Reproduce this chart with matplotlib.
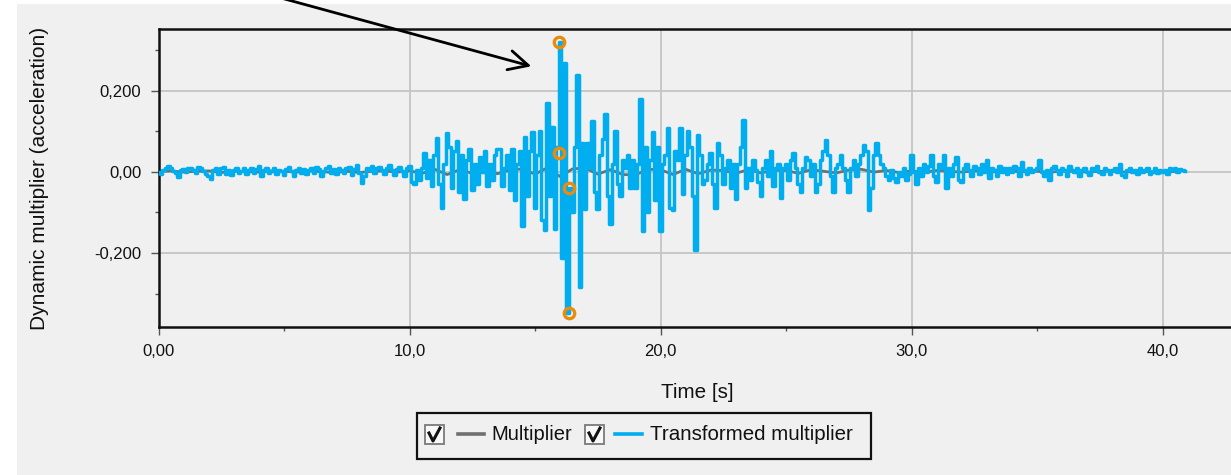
import matplotlib
matplotlib.use("Agg")
import matplotlib.pyplot as plt
import numpy as np
from matplotlib.patches import Rectangle, FancyArrowPatch
from matplotlib.lines import Line2D
from matplotlib.ticker import FixedLocator, FixedFormatter

plt.rcParams["font.family"] = ["Liberation Sans", "DejaVu Sans"]

# ---------------- data ----------------
time_step = 0.1  # s, sampling of the transformed multiplier
transformed = [
    0.000, -0.006, 0.004, 0.008, 0.015, 0.010, 0.002, -0.004, -0.012, 0.003,   # 0 s
    0.006, 0.000, 0.008, 0.010, 0.005, -0.004, 0.012, 0.008, 0.002, -0.006,    # 1
    -0.010, -0.018, 0.004, 0.010, -0.006, 0.008, 0.012, -0.005, 0.003, -0.008, # 2
    0.004, 0.010, -0.004, 0.002, 0.008, -0.006, 0.004, 0.010, -0.002, 0.006,   # 3
    0.014, -0.010, 0.004, 0.008, -0.004, 0.002, 0.010, -0.006, 0.004, 0.002,   # 4
    -0.008, 0.006, 0.012, 0.002, -0.010, 0.004, 0.008, -0.002, 0.006, -0.006,  # 5
    0.004, 0.010, -0.004, 0.012, 0.006, -0.010, 0.002, 0.008, 0.014, -0.004,   # 6
    0.006, -0.006, 0.010, 0.004, -0.002, 0.008, 0.012, -0.008, 0.006, 0.016,   # 7
    -0.004, -0.028, -0.010, 0.010, 0.004, 0.014, -0.002, 0.008, 0.012, 0.004,  # 8
    -0.006, 0.010, 0.016, 0.004, -0.008, 0.006, 0.012, 0.002, -0.010, 0.008,   # 9
    0.015, -0.025, -0.030, 0.005, -0.020, 0.010, 0.045, -0.015, 0.030, -0.035, # 10
    0.040, 0.082, -0.030, -0.090, 0.020, 0.095, 0.060, -0.040, 0.050, 0.075,   # 11
    -0.050, 0.040, -0.067, 0.030, 0.055, -0.045, 0.020, -0.030, 0.035, 0.000,  # 12
    0.050, -0.035, 0.020, -0.020, 0.040, 0.055, 0.055, -0.035, 0.010, 0.040,   # 13
    -0.045, 0.055, -0.070, 0.020, 0.050, -0.134, 0.085, -0.060, 0.050, 0.098,  # 14
    -0.090, 0.040, 0.100, -0.120, -0.143, 0.169, -0.060, 0.110, -0.140, 0.060, # 15
    0.320, -0.212, 0.268, -0.348, -0.040, -0.100, 0.060, 0.238, -0.283, 0.070, # 16
    -0.093, 0.070, 0.010, 0.125, -0.050, -0.093, 0.040, 0.080, 0.142, -0.060,  # 17
    -0.130, 0.020, 0.100, -0.030, -0.060, 0.030, 0.010, 0.040, -0.040, 0.030,  # 18
    -0.040, 0.020, 0.179, -0.145, 0.060, -0.100, 0.030, 0.099, -0.070, 0.060,  # 19
    -0.145, 0.020, 0.040, 0.107, -0.090, -0.094, 0.050, 0.030, 0.107, -0.055,  # 20
    0.040, 0.100, 0.060, -0.060, -0.193, 0.090, 0.040, -0.030, -0.020, 0.020,  # 21
    0.045, -0.030, -0.090, 0.070, 0.040, -0.030, 0.010, 0.030, -0.040, 0.020,  # 22
    -0.066, 0.020, 0.060, 0.127, -0.040, 0.010, -0.020, 0.030, 0.005, -0.025,  # 23
    -0.060, 0.010, 0.030, -0.010, 0.050, -0.035, 0.010, 0.020, -0.065, 0.010,  # 24
    0.020, -0.020, 0.030, 0.045, 0.010, -0.030, -0.050, 0.010, 0.035, 0.030,   # 25
    -0.010, 0.020, -0.050, -0.030, 0.030, 0.050, 0.078, 0.040, -0.010, -0.050, # 26
    0.010, 0.020, 0.040, 0.010, -0.020, -0.050, 0.010, 0.030, -0.010, 0.020,   # 27
    0.040, 0.066, 0.050, -0.094, -0.040, 0.040, 0.070, 0.040, 0.020, 0.010,    # 28
    -0.010, -0.020, 0.005, -0.015, -0.025, 0.000, -0.010, 0.010, -0.020, -0.005, # 29
    0.040, 0.000, -0.030, 0.010, -0.010, 0.020, 0.000, 0.015, 0.040, -0.010,   # 30
    -0.025, 0.020, 0.010, 0.042, -0.040, 0.010, -0.010, 0.020, 0.035, -0.020,  # 31
    -0.025, 0.010, 0.020, 0.005, -0.010, 0.015, 0.010, -0.005, 0.020, 0.000,   # 32
    0.030, -0.015, 0.010, 0.005, -0.010, 0.015, 0.000, 0.010, -0.005, 0.010,   # 33
    0.000, 0.015, 0.010, -0.010, 0.025, 0.005, -0.005, 0.010, 0.000, 0.005,    # 34
    0.010, 0.030, 0.000, -0.010, 0.005, -0.020, 0.010, 0.015, 0.005, -0.005,   # 35
    0.010, 0.005, -0.010, 0.015, 0.005, 0.000, 0.010, -0.010, 0.005, 0.010,    # 36
    0.000, -0.008, 0.010, 0.005, 0.015, 0.000, -0.005, 0.010, 0.005, -0.005,   # 37
    0.005, 0.010, 0.000, 0.020, -0.008, -0.012, 0.005, 0.010, 0.000, 0.005,    # 38
    -0.005, 0.008, 0.000, 0.005, 0.010, -0.005, 0.000, 0.008, -0.003, 0.005,   # 39
    0.000, 0.005, -0.005, 0.008, 0.003, 0.010, 0.000, 0.006, 0.005, 0.002,     # 40
]

mult_step = 0.5  # s, sampling of the (small) original multiplier
multiplier = [
    0.000, 0.002, -0.001, 0.001, 0.002, -0.002, 0.001, 0.000, -0.001, 0.002,
    0.001, -0.001, 0.002, 0.000, -0.002, 0.001, -0.002, 0.001, 0.002, -0.001,
    0.002, -0.004, 0.006, -0.007, 0.005, -0.004, 0.006, -0.005, 0.004, 0.007,
    -0.006, 0.010, -0.012, 0.007, 0.009, -0.006, 0.005, -0.007, -0.008, 0.006,
    0.005, -0.007, 0.006, -0.005, 0.004, 0.003, -0.004, 0.005, -0.003, 0.004,
    0.003, -0.004, 0.005, 0.001, -0.003, 0.004, 0.006, -0.001, 0.003, -0.002,
    0.002, -0.002, 0.003, 0.001, -0.001, 0.002, 0.001, -0.001, 0.001, 0.000,
    0.001, -0.001, 0.001, 0.001, -0.001, 0.001, 0.001, -0.001, 0.001, 0.000,
    0.001, 0.000,
]

# highlighted extreme points (orange circles)
marker_time = [15.97, 15.97, 16.35, 16.35]
marker_value = [0.3195, 0.046, -0.040, -0.348]

x_ticks = [0, 10, 20, 30, 40]
x_tick_labels = ["0,00", "10,0", "20,0", "30,0", "40,0"]
y_ticks = [-0.2, 0.0, 0.2]
y_tick_labels = ["-0,200", "0,00", "0,200"]
legend_labels = ["Multiplier", "Transformed multiplier"]

# ---------------- figure ----------------
W, H = 1231, 475
fig = plt.figure(figsize=(W / 100, H / 100), dpi=100, facecolor="white")
BG = "#f0f0f0"
BLUE = "#00adef"
GRAY = "#707070"

def fx(px):
    return px / W

def fy(py):
    return 1 - py / H

# gray panel with white margin at top / left
fig.patches.append(Rectangle((fx(17), 0), 1, fy(4), transform=fig.transFigure,
                             facecolor=BG, edgecolor="none", zorder=-10))

ax_left, ax_right, ax_top, ax_bot = 158.5, 1231, 29, 327
ax = fig.add_axes([fx(ax_left), fy(ax_bot), fx(ax_right) - fx(ax_left), fy(ax_top) - fy(ax_bot)])
ax.set_zorder(1)
ax.set_facecolor(BG)
px_per_s = 25.1
ax.set_xlim(0, (ax_right - ax_left) / px_per_s)
ax.set_ylim(-0.3825, 0.3515)

t_tr = np.arange(len(transformed)) * time_step
t_mu = np.arange(len(multiplier)) * mult_step
ax.plot(t_mu, multiplier, color=GRAY, lw=2.0, zorder=2)
ax.plot(t_tr, transformed, color=BLUE, lw=2.5, drawstyle="steps-mid", zorder=3)
ax.plot(marker_time, marker_value, linestyle="none", marker="o", ms=7.5,
        mfc="none", mec="#ec8a0b", mew=2.4, zorder=4)

ax.xaxis.set_major_locator(FixedLocator(x_ticks))
ax.xaxis.set_major_formatter(FixedFormatter(x_tick_labels))
ax.xaxis.set_minor_locator(FixedLocator([5, 15, 25, 35]))
ax.yaxis.set_major_locator(FixedLocator(y_ticks))
ax.yaxis.set_major_formatter(FixedFormatter(y_tick_labels))
ax.yaxis.set_minor_locator(FixedLocator([-0.3, -0.1, 0.1, 0.3]))

ax.grid(True, which="major", color="#c4c4c4", lw=1.3)
ax.set_axisbelow(True)
ax.tick_params(which="major", length=6, width=1.0, color="#555555", pad=6.5,
               labelsize=12, labelcolor="#111111")
ax.tick_params(which="minor", length=3, width=1.0, color="#555555")

for side in ["top", "bottom", "left"]:
    ax.spines[side].set_linewidth(1.8)
    ax.spines[side].set_color("#111111")
ax.spines["right"].set_visible(False)

renderer = fig.canvas.get_renderer()

def fit_text(t, target_w):
    bb = t.get_window_extent(renderer)
    t.set_fontsize(t.get_fontsize() * target_w / bb.width)

# axis labels
ylab = fig.text(fx(40), fy(178), "Dynamic multiplier (acceleration)", rotation=90,
                ha="center", va="center", fontsize=12, color="#111111")
bb = ylab.get_window_extent(renderer)
ylab.set_fontsize(12 * 305 / bb.height)

xlab = fig.text(fx(697), fy(393), "Time [s]", ha="center", va="center",
                fontsize=12, color="#111111")
fit_text(xlab, 72)

# legend box drawn by hand (checkbox style legend)
fig.patches.append(Rectangle((fx(417), fy(459)), fx(871) - fx(417), fy(413) - fy(459),
                             transform=fig.transFigure, facecolor=BG,
                             edgecolor="#111111", lw=1.6, zorder=5))

def checkbox(px0):
    fig.patches.append(Rectangle((fx(px0), fy(444)), fx(px0 + 19) - fx(px0), fy(425) - fy(444),
                                 transform=fig.transFigure, facecolor="#f8f8f8",
                                 edgecolor="#7a7a7a", lw=1.3, zorder=6))
    fig.lines.append(Line2D([fx(px0 + 4), fx(px0 + 8), fx(px0 + 15)],
                            [fy(433), fy(441), fy(428)], transform=fig.transFigure,
                            color="#111111", lw=2.2, zorder=7))

checkbox(425)
fig.lines.append(Line2D([fx(458), fx(484)], [fy(434), fy(434)], transform=fig.transFigure,
                        color=GRAY, lw=2.6, zorder=6))
t1 = fig.text(fx(491), fy(435), legend_labels[0], ha="left", va="center",
              fontsize=12, color="#111111", zorder=6)
fit_text(t1, 81)

checkbox(585)
fig.lines.append(Line2D([fx(615), fx(642)], [fy(434), fy(434)], transform=fig.transFigure,
                        color=BLUE, lw=2.6, zorder=6))
t2 = fig.text(fx(650), fy(435), legend_labels[1], ha="left", va="center",
              fontsize=12, color="#111111", zorder=6)
fit_text(t2, 204)

# annotation arrow pointing at the peak
arrow = FancyArrowPatch((fx(281), fy(-2)), (fx(534), fy(67)), transform=fig.transFigure,
                        arrowstyle="->,head_length=14,head_width=7", mutation_scale=1,
                        color="black", lw=2.0, zorder=20)
fig.patches.append(arrow)

fig.savefig("out.png", dpi=100, facecolor=fig.get_facecolor())
